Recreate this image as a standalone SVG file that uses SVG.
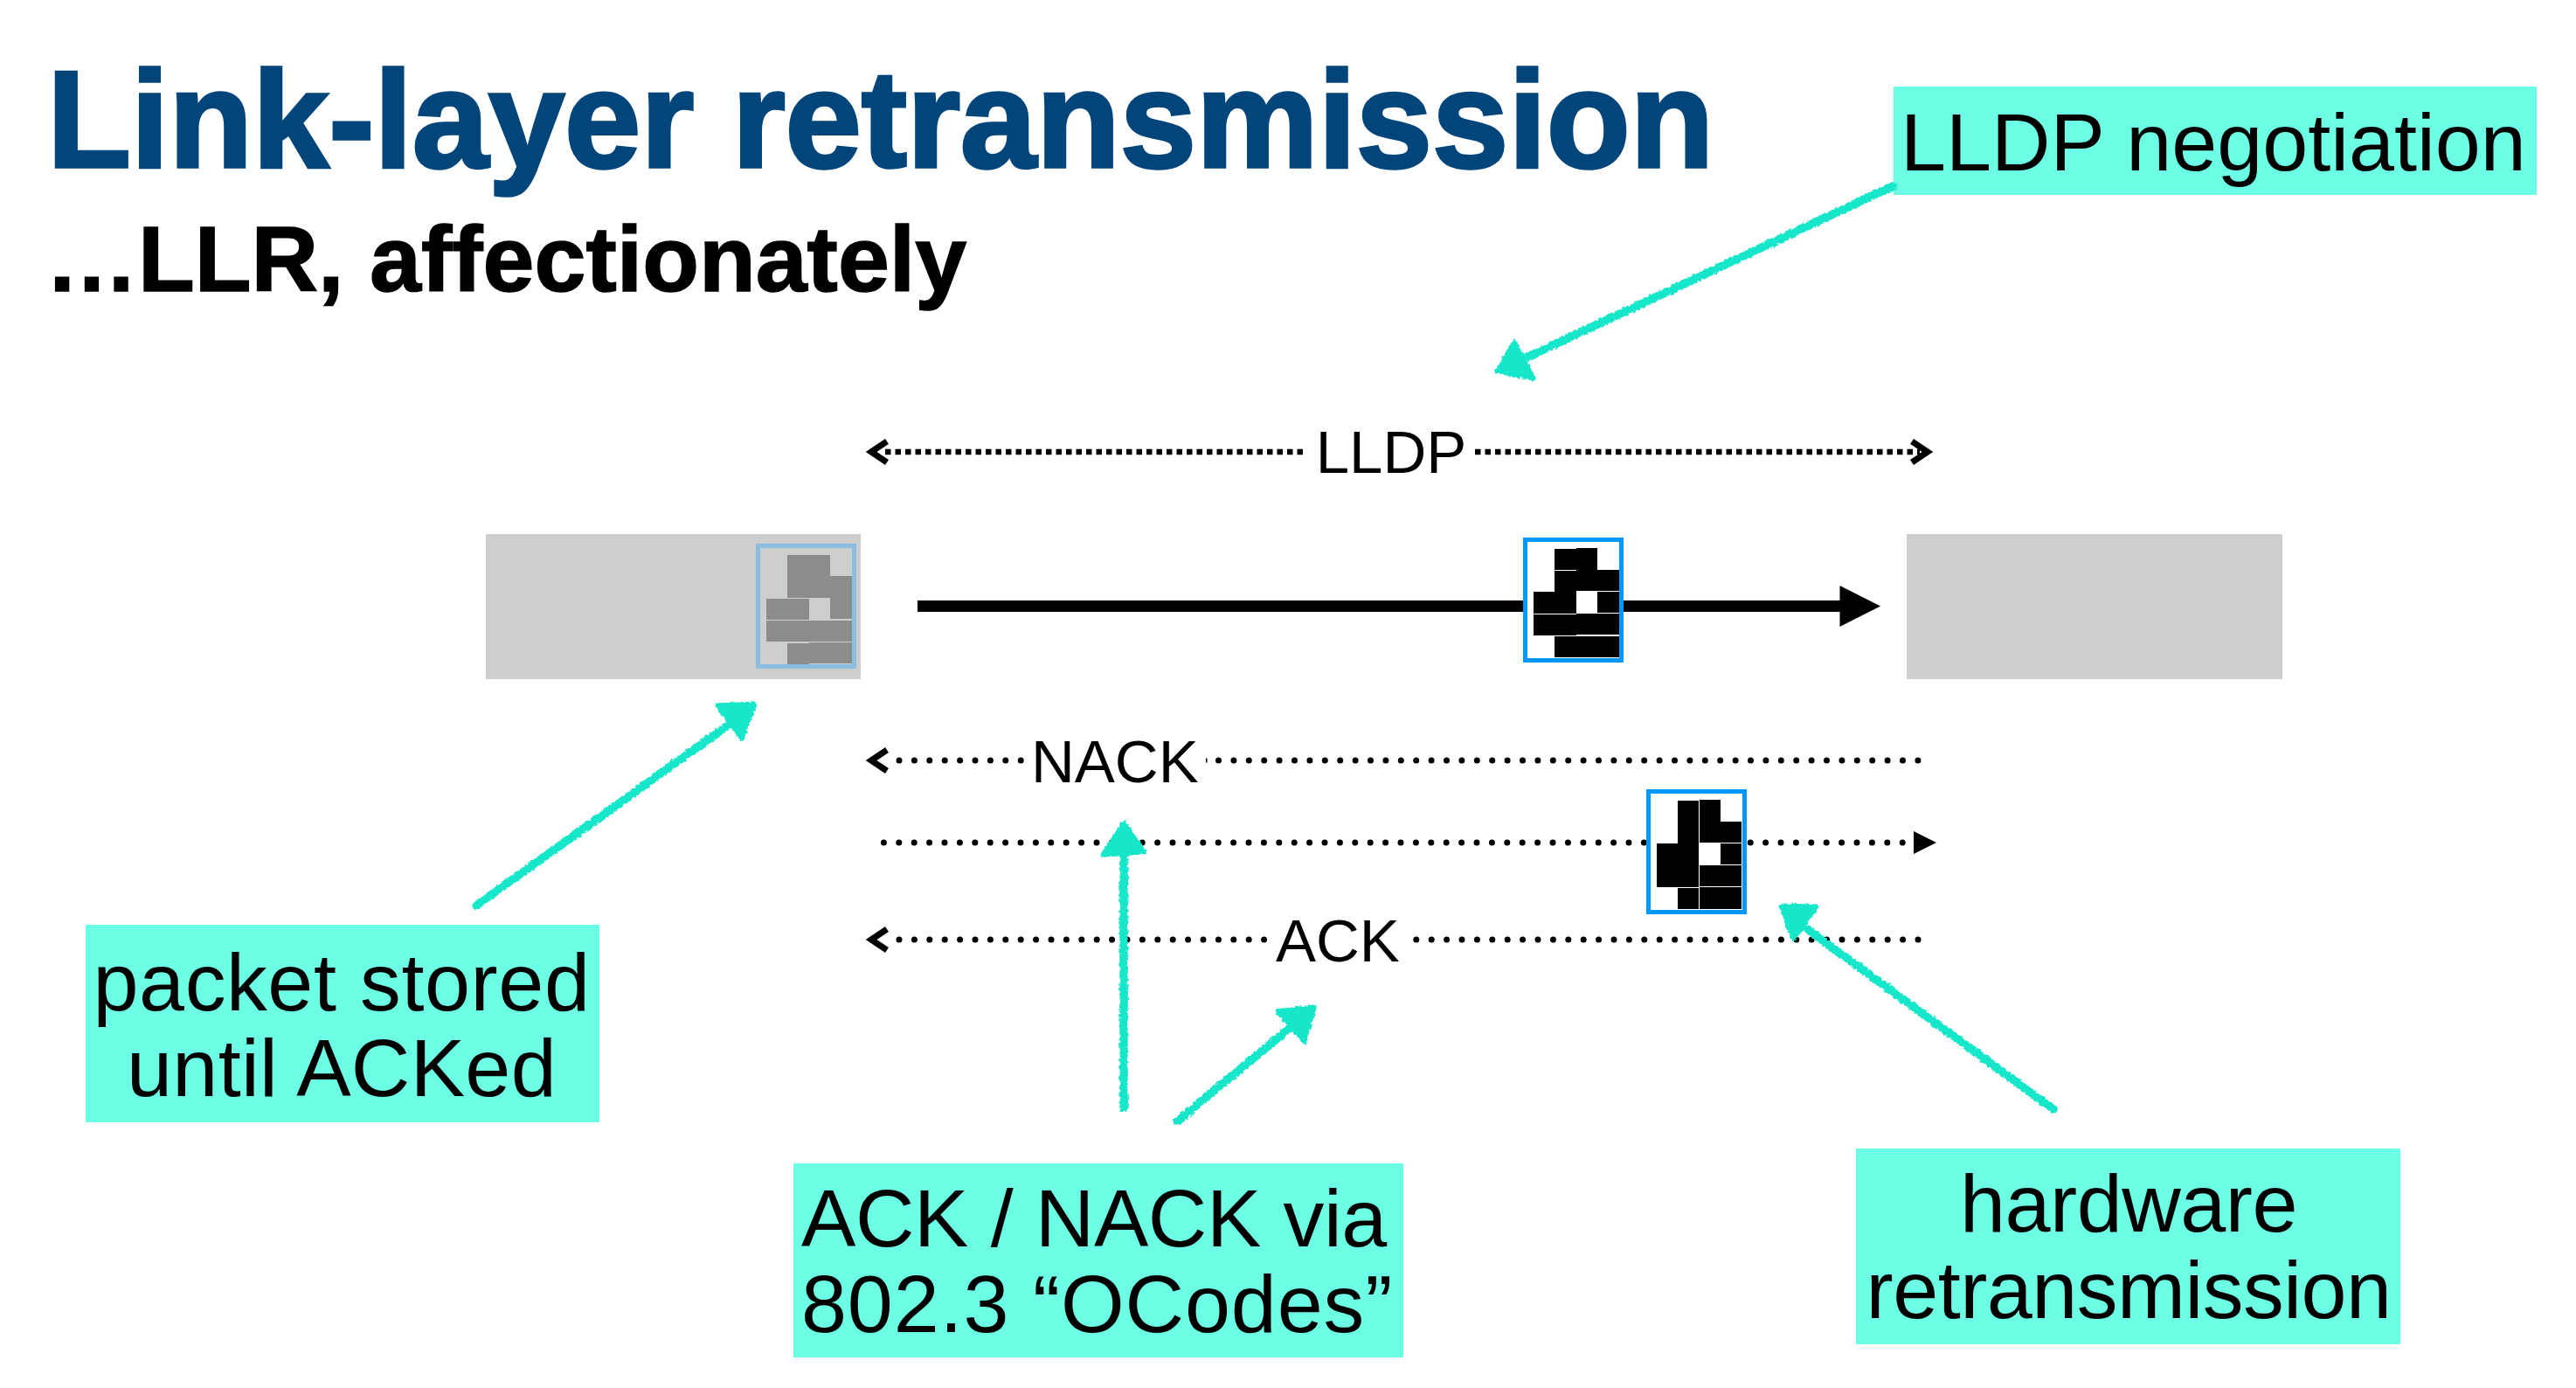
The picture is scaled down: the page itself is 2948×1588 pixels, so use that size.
<svg xmlns="http://www.w3.org/2000/svg" width="2948" height="1588" viewBox="0 0 2948 1588">
<style>
text{font-family:"Liberation Sans",Arial,sans-serif;fill:#000}
.t{font-size:157px;font-weight:700;fill:#02457a;stroke:#02457a;stroke-width:3.5px;letter-spacing:-.15px}
.s{font-size:106px;font-weight:700;stroke:#000;stroke-width:1.5px}
.c{font-size:93.500px}
.w1{letter-spacing:.6px}
.w2{letter-spacing:.3px}
.w3{letter-spacing:.85px}
.w4{letter-spacing:-.4px}
.w5{letter-spacing:-.5px}
.m{text-anchor:middle}
.l{font-size:69px}
.box{fill:#6cffe6}
.d{fill:none;stroke:#000;stroke-width:7;stroke-linecap:round;stroke-dasharray:0 17.4}
.dd{fill:none;stroke:#000;stroke-width:6.500;stroke-dasharray:6.500 5}
.ch{fill:none;stroke:#000;stroke-width:7}
.ta{stroke:#18e6c9;stroke-width:9.500;stroke-linecap:round;fill:none}
.th{fill:#18e6c9;stroke:#18e6c9;stroke-width:5;stroke-linejoin:round}
.k{fill:#000}
.g{fill:#8c8c8c}
.f1{fill:#fff;stroke:#0098ff;stroke-width:5}
.f2{fill:none;stroke:#8bbde0;stroke-width:5}
</style>
<defs>
<filter id="rough" filterUnits="userSpaceOnUse" x="0" y="0" width="2948" height="1588">
<feTurbulence type="fractalNoise" baseFrequency="0.3" numOctaves="2" seed="4"/>
<feDisplacementMap in="SourceGraphic" scale="5" xChannelSelector="R" yChannelSelector="G"/>
</filter>
</defs>
<rect width="2948" height="1588" fill="#fff"/>
<text class="t" x="54" y="191">Link-layer retransmission</text>
<text class="s" x="52" y="333">…LLR, affectionately</text>
<g id="sender"><rect x="556" y="611" width="429" height="166" fill="#cecece"/></g>
<g id="receiver"><rect x="2182" y="611" width="430" height="166" fill="#cecece"/></g>
<g id="connectors">
<path class="dd" d="M1013 517H1495M1688 517H2197"/>
<path class="ch" d="M1015 505L997 517L1015 529M2188 505L2206 517L2188 529"/>
<path d="M1050 693.5H2110" stroke="#000" stroke-width="13"/>
<path d="M2105.500 670L2152 693.500L2105.500 717Z" class="k"/>
<path class="d" d="M1029 870H1170M1394.500 870H2195.500M1011.400 964H2179M1029 1075H1448M1620.800 1075H2195.500"/>
<path d="M1380 870h1.500" stroke="#000" stroke-width="5" fill="none"/>
<path class="ch" d="M1015 858L997 870L1015 882M1015 1063L997 1075L1015 1087"/>
<path d="M2190 951L2216 964L2190 977Z" class="k"/>
</g>
<g id="packet-stored-copy">
<rect class="f2" x="867.500" y="624.500" width="110" height="138"/>
<path class="g" d="M901 635H950V659H975V708H950V684H901ZM877 685H926V709H877ZM877 710H975V734H877ZM926 735H975V759H926ZM901 736H926V760H901Z"/>
</g>
<g id="packet-on-wire">
<rect class="f1" x="1745.500" y="617.500" width="110" height="138"/>
<path class="k" d="M1779 628H1804V652H1779ZM1804 627H1828V652H1853V676H1804ZM1779 653H1804V677H1779ZM1755 677H1804V702H1755ZM1828 677H1853V701H1828ZM1755 703H1804V727H1755ZM1804 702H1853V726H1804ZM1779 728H1853V752H1779Z"/>
</g>
<g id="packet-retransmit">
<rect class="f1" x="1886.500" y="905.500" width="110" height="138"/>
<path class="k" d="M1920 916H1944V1015H1896V965H1920ZM1945 915H1969V940H1993V964H1945ZM1969 965H1993V989H1969ZM1945 990H1993V1014H1945ZM1920 1016H1944V1040H1920ZM1945 1015H1993V1040H1945Z"/>
</g>
<g id="label-lldp"><text class="l m" x="1592" y="541">LLDP</text></g>
<g id="label-nack"><text class="l" x="1180" y="895">NACK</text></g>
<g id="label-ack"><text class="l" x="1460" y="1100">ACK</text></g>
<g id="note-lldp"><rect class="box" x="2167" y="99" width="736" height="124"/><text class="c" x="2175" y="195">LLDP negotiation</text></g>
<g id="note-stored"><rect class="box" x="98" y="1058" width="588" height="226"/><text class="c m w1" x="391" y="1156">packet stored</text><text class="c m w2" x="391" y="1254">until ACKed</text></g>
<g id="note-ack"><rect class="box" x="908" y="1331" width="698" height="222"/><text class="c w4" x="917" y="1426">ACK / NACK via</text><text class="c w3" x="917" y="1524">802.3 “OCodes”</text></g>
<g id="note-hw"><rect class="box" x="2124" y="1314" width="623" height="224"/><text class="c m w5" x="2436" y="1409">hardware</text><text class="c m w5" x="2436" y="1508">retransmission</text></g>
<g id="callouts" filter="url(#rough)">
<path class="ta" d="M2166 213L1745 410"/><path class="th" d="M1713 425L1733 391L1755 433Z"/>
<path class="ta" d="M545 1036L833 830"/><path class="th" d="M821 807L864 805L849 845Z"/>
<path class="ta" d="M1286 1267V975"/><path class="th" d="M1286 942L1262 978L1310 975Z"/>
<path class="ta" d="M1347 1283L1475 1177"/><path class="th" d="M1504 1152L1462 1157L1493 1192Z"/>
<path class="ta" d="M2350 1269L2068 1063"/><path class="th" d="M2038 1036L2079 1037L2052 1075Z"/>
</g>
</svg>
